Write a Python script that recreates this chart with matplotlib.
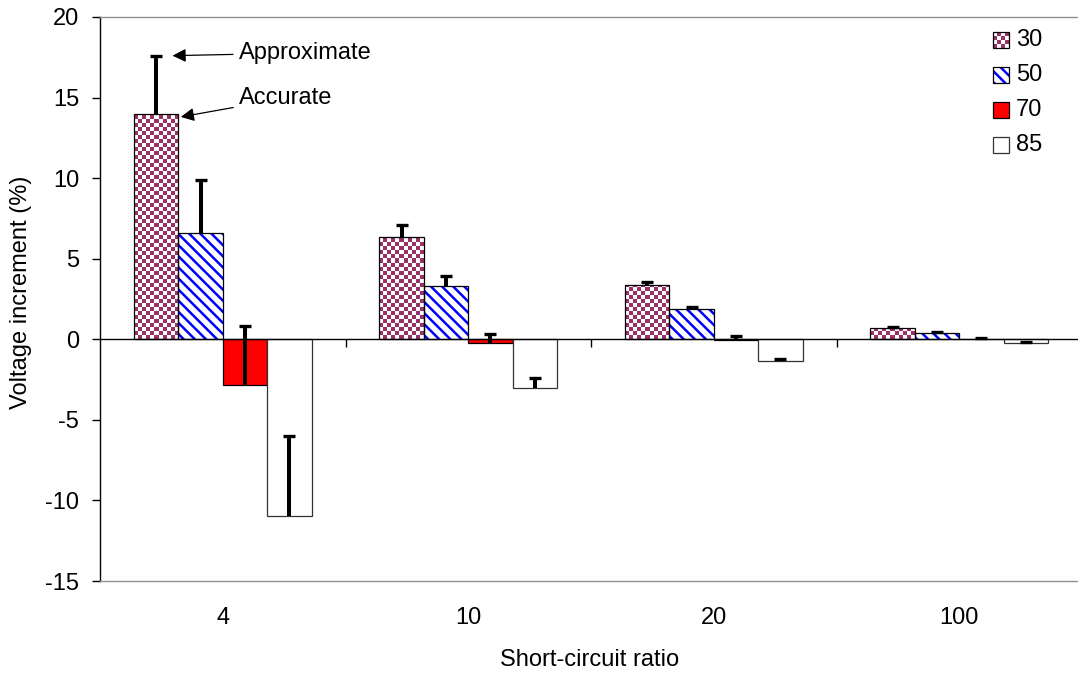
import numpy as np
import matplotlib
matplotlib.use("Agg")
import matplotlib.pyplot as plt
from matplotlib.colors import ListedColormap
from matplotlib.patches import Rectangle

plt.rcParams['font.family'] = ['Liberation Sans', 'DejaVu Sans']
plt.rcParams['hatch.linewidth'] = 1.8
plt.rcParams['axes.unicode_minus'] = False

# ---- data -------------------------------------------------------------
categories = ['4', '10', '20', '100']          # short-circuit ratio
series = ['30', '50', '70', '85']

# bar heights (accurate values, %)
accurate_30 = [14.0, 6.35, 3.35, 0.68]
accurate_50 = [6.6, 3.3, 1.85, 0.40]
accurate_70 = [-2.85, -0.20, -0.05, 0.0]
accurate_85 = [-10.95, -3.05, -1.35, -0.22]

# ends of the whiskers (approximate values, %)
approx_30 = [17.6, 7.1, 3.55, 0.76]
approx_50 = [9.9, 3.9, 2.0, 0.45]
approx_70 = [0.85, 0.30, 0.20, 0.05]
approx_85 = [-6.0, -2.4, -1.2, -0.17]

y_ticks = [-15, -10, -5, 0, 5, 10, 15, 20]

# ---- styling ----------------------------------------------------------
MAROON = '#993366'
BLUE = '#0000ff'
RED = '#ff0000'
FS = 17
W, H = 1078, 675

fig = plt.figure(figsize=(W / 100, H / 100), dpi=100)
ax = fig.add_axes([100 / W, 1 - 581 / H, 982 / W, 564 / H])
ax.set_xlim(-0.5, 3.5)
ax.set_ylim(y_ticks[0], y_ticks[-1])

x = np.arange(len(categories))
bw = 0.181
offsets = (np.arange(len(series)) - 1.5) * bw
checker_cmap = ListedColormap(['white', MAROON])
px_per_unit = 564 / (y_ticks[-1] - y_ticks[0])
cell_h = 4 / px_per_unit


def checker_fill(bar):
    """Fill a bar with a small maroon/white checkerboard."""
    x0, y0 = bar.get_x(), bar.get_y()
    w, h = bar.get_width(), bar.get_height()
    nx = 11
    ny = max(1, int(np.ceil(abs(h) / cell_h)))
    jj, ii = np.meshgrid(np.arange(nx), np.arange(ny))
    arr = ((ii + jj) % 2).astype(float)
    sign = 1 if h >= 0 else -1
    im = ax.imshow(arr, extent=[x0, x0 + w, y0, y0 + sign * ny * cell_h],
                   origin='lower', cmap=checker_cmap, vmin=0, vmax=1,
                   interpolation='nearest', aspect='auto', zorder=2.1)
    im.set_clip_path(bar)


STRIPES = '\\\\\\'

# series 30: checkerboard
xs30 = x + offsets[0]
bars30 = ax.bar(xs30, accurate_30, bw, facecolor='white', edgecolor='none',
                lw=0, zorder=2)
for b in bars30:
    checker_fill(b)
ax.bar(xs30, accurate_30, bw, fill=False, edgecolor='black', lw=0.9, zorder=3)

# series 50: blue diagonal stripes
xs50 = x + offsets[1]
ax.bar(xs50, accurate_50, bw, facecolor='white', edgecolor=BLUE, lw=0,
       hatch=STRIPES, zorder=2)
ax.bar(xs50, accurate_50, bw, fill=False, edgecolor='black', lw=0.9, zorder=3)

# series 70: solid red
xs70 = x + offsets[2]
ax.bar(xs70, accurate_70, bw, facecolor=RED, edgecolor='black', lw=0.9,
       zorder=2)

# series 85: white
xs85 = x + offsets[3]
ax.bar(xs85, accurate_85, bw, facecolor='white', edgecolor='#333333', lw=0.9,
       zorder=2)

# whiskers from accurate to approximate value, capped at the approximate end
for xs, acc, apx in [(xs30, accurate_30, approx_30), (xs50, accurate_50, approx_50),
                     (xs70, accurate_70, approx_70), (xs85, accurate_85, approx_85)]:
    ax.vlines(xs, acc, apx, color='black', lw=2.9, zorder=5)
    ax.plot(xs, apx, ls='none', marker='_', ms=8, mew=2.4, color='black',
            zorder=5)

# category axis at zero with ticks between the groups
ax.axhline(0, color='black', lw=1.0, zorder=4)
bounds = x[:-1] + 0.5
ax.vlines(bounds, 0, -8 / px_per_unit, color='black', lw=1.0, zorder=4)

# axes frame
ax.spines['right'].set_visible(False)
ax.spines['left'].set_color('black')
ax.spines['left'].set_linewidth(1.0)
for s in ('top', 'bottom'):
    ax.spines[s].set_color('#909090')
    ax.spines[s].set_linewidth(1.0)

ax.set_yticks(y_ticks)
ax.tick_params(axis='y', length=6, width=1, direction='out', pad=9,
               labelsize=FS, colors='black')
ax.set_xticks(x, categories)
ax.tick_params(axis='x', length=0, pad=19, labelsize=FS)

fig.text(21 / W, 1 - 292 / H, 'Voltage increment (%)', rotation=90,
         ha='center', va='center', fontsize=FS)
fig.text(590 / W, 1 - 660 / H, 'Short-circuit ratio', ha='center',
         va='center', fontsize=FS)

# callouts on the first group
arrow = dict(arrowstyle='-|>', color='black', lw=0.9, mutation_scale=20,
             shrinkA=2, shrinkB=0)
ax.annotate('Approximate', xy=(xs30[0] + 0.067, approx_30[0]),
            xytext=(47.5, 2), textcoords='offset points', ha='left',
            va='center', fontsize=FS, arrowprops=arrow, zorder=6)
ax.annotate('Accurate', xy=(xs30[0] + bw / 2 + 0.01, accurate_30[0] - 0.2),
            xytext=(41.8, 13.5), textcoords='offset points', ha='left',
            va='center', fontsize=FS, arrowprops=arrow, zorder=6)

# legend, laid out in pixel coordinates
lax = fig.add_axes([0, 0, 1, 1], zorder=10)
lax.patch.set_visible(False)
lax.axis('off')
rows = [40, 75, 110, 145]
lx0, sz = 993, 16
for k, (name, yc) in enumerate(zip(series, rows)):
    y0 = yc - sz / 2
    if k == 0:
        arr = ((np.add.outer(np.arange(4), np.arange(4))) % 2).astype(float)
        lax.imshow(arr, extent=[lx0, lx0 + sz, y0 + sz, y0], cmap=checker_cmap,
                   vmin=0, vmax=1, interpolation='nearest', aspect='auto')
        lax.add_patch(Rectangle((lx0, y0), sz, sz, fill=False,
                                edgecolor='black', lw=0.9))
    elif k == 1:
        lax.add_patch(Rectangle((lx0, y0), sz, sz, facecolor='white',
                                edgecolor=BLUE, lw=0, hatch=STRIPES))
        lax.add_patch(Rectangle((lx0, y0), sz, sz, fill=False,
                                edgecolor='black', lw=0.9))
    elif k == 2:
        lax.add_patch(Rectangle((lx0, y0), sz, sz, facecolor=RED,
                                edgecolor='black', lw=0.9))
    else:
        lax.add_patch(Rectangle((lx0, y0), sz, sz, facecolor='white',
                                edgecolor='#333333', lw=0.9))
    lax.text(lx0 + sz + 7, yc, name, ha='left', va='center', fontsize=FS)
lax.set_xlim(0, W)
lax.set_ylim(H, 0)

fig.savefig('out.png', dpi=100)
